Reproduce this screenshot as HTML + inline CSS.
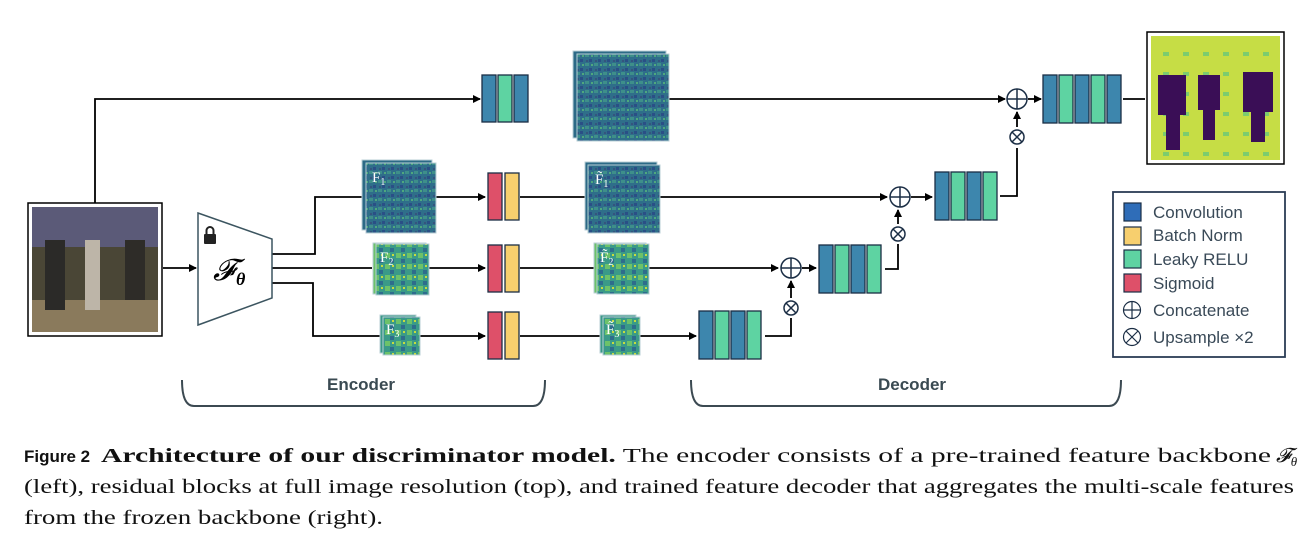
<!DOCTYPE html>
<html><head><meta charset="utf-8"><style>
body{margin:0;background:#fff;width:1314px;height:540px;overflow:hidden}
</style></head><body>
<svg width="1314" height="540" style="position:absolute;left:0;top:0" font-family="Liberation Sans, sans-serif">
<defs>
<marker id="a" markerWidth="8" markerHeight="8" refX="7" refY="4" orient="auto" markerUnits="userSpaceOnUse"><path d="M0,0L8,4L0,8z" fill="#000"/></marker>
<pattern id="fm" width="9" height="9" patternUnits="userSpaceOnUse"><rect width="9" height="9" fill="#2f6e8a"/><rect x="0" y="0" width="4" height="3" fill="#3e8f8a"/><rect x="4" y="5" width="3" height="3" fill="#2a4f86"/><rect x="6" y="1" width="2" height="2" fill="#4ea87e"/><rect x="1" y="6" width="2" height="2" fill="#35547e"/></pattern>
<pattern id="fm2" width="11" height="11" patternUnits="userSpaceOnUse"><rect width="11" height="11" fill="#3a9a88"/><rect x="0" y="0" width="5" height="5" fill="#6cc26a"/><rect x="5" y="6" width="4" height="4" fill="#2e6d8c"/><rect x="7" y="1" width="2" height="2" fill="#c8dc3c"/></pattern>
<pattern id="seg" width="20" height="20" patternUnits="userSpaceOnUse"><rect width="20" height="20" fill="#c6dd45"/><rect x="3" y="12" width="6" height="4" fill="#7ccc6e"/></pattern>
</defs>
<g stroke="#000" stroke-width="1.8" fill="none">
<path d="M95,203V99H480" marker-end="url(#a)"/>
<path d="M668,99H1005" marker-end="url(#a)"/>
<path d="M1028,99H1041" marker-end="url(#a)"/>
<path d="M1123,99H1145"/>
<path d="M1017,127V112" marker-end="url(#a)"/>
<path d="M1000,196H1017V148"/>
<path d="M163,268H196" marker-end="url(#a)"/>
<path d="M272,254H315V197H362"/>
<path d="M435,197H485" marker-end="url(#a)"/>
<path d="M520,197H585"/>
<path d="M660,197H887" marker-end="url(#a)"/>
<path d="M911,197H932" marker-end="url(#a)"/>
<path d="M898,224V210" marker-end="url(#a)"/>
<path d="M885,269H898V244"/>
<path d="M272,268H372"/>
<path d="M428,268H485" marker-end="url(#a)"/>
<path d="M520,268H595"/>
<path d="M648,268H778" marker-end="url(#a)"/>
<path d="M802,268H816" marker-end="url(#a)"/>
<path d="M791,298V281" marker-end="url(#a)"/>
<path d="M765,336H791V318"/>
<path d="M272,283H313V336H380"/>
<path d="M420,336H485" marker-end="url(#a)"/>
<path d="M520,336H600"/>
<path d="M640,336H696" marker-end="url(#a)"/>
</g>
<rect x="28" y="203" width="134" height="133" fill="#fff" stroke="#000" stroke-width="1.5"/>
<rect x="32" y="207" width="126" height="125" fill="#4a4636"/>
<rect x="32" y="207" width="126" height="40" fill="#5b5a78"/>
<rect x="32" y="300" width="126" height="32" fill="#8a7a5c"/>
<rect x="45" y="240" width="20" height="70" fill="#2b2a28"/><rect x="85" y="240" width="15" height="70" fill="#bdb5a8"/><rect x="125" y="240" width="20" height="60" fill="#2e2c28"/>
<path d="M198,213L272,239V298L198,325Z" fill="#fff" stroke="#3c5560" stroke-width="1.5"/>
<rect x="204" y="234" width="12" height="10" rx="1" fill="#222"/><path d="M206.5,234v-3.5a3.5,3.5 0 0 1 7,0v3.5" stroke="#222" stroke-width="2" fill="none"/>
<text x="213" y="280" font-family="Liberation Serif,serif" font-style="italic" font-size="30">𝓕</text><text x="236" y="285" font-family="Liberation Serif,serif" font-weight="bold" font-style="italic" font-size="18">θ</text>
<g stroke="#1b2e45" stroke-width="1.3">
<rect x="482" y="75" width="14" height="47" fill="#3d86ad"/><rect x="498" y="75" width="14" height="47" fill="#5ed3a2"/><rect x="514" y="75" width="14" height="47" fill="#3d86ad"/>
<rect x="1043" y="75" width="14" height="48" fill="#3d86ad"/><rect x="1059" y="75" width="14" height="48" fill="#5ed3a2"/><rect x="1075" y="75" width="14" height="48" fill="#3d86ad"/><rect x="1091" y="75" width="14" height="48" fill="#5ed3a2"/><rect x="1107" y="75" width="14" height="48" fill="#3d86ad"/>
<rect x="935" y="172" width="14" height="48" fill="#3d86ad"/><rect x="951" y="172" width="14" height="48" fill="#5ed3a2"/><rect x="967" y="172" width="14" height="48" fill="#3d86ad"/><rect x="983" y="172" width="14" height="48" fill="#5ed3a2"/>
<rect x="819" y="245" width="14" height="48" fill="#3d86ad"/><rect x="835" y="245" width="14" height="48" fill="#5ed3a2"/><rect x="851" y="245" width="14" height="48" fill="#3d86ad"/><rect x="867" y="245" width="14" height="48" fill="#5ed3a2"/>
<rect x="699" y="311" width="14" height="48" fill="#3d86ad"/><rect x="715" y="311" width="14" height="48" fill="#5ed3a2"/><rect x="731" y="311" width="14" height="48" fill="#3d86ad"/><rect x="747" y="311" width="14" height="48" fill="#5ed3a2"/>
<rect x="488" y="173" width="14" height="47" fill="#de5069"/><rect x="505" y="173" width="14" height="47" fill="#f7cf6e"/>
<rect x="488" y="245" width="14" height="47" fill="#de5069"/><rect x="505" y="245" width="14" height="47" fill="#f7cf6e"/>
<rect x="488" y="312" width="14" height="47" fill="#de5069"/><rect x="505" y="312" width="14" height="47" fill="#f7cf6e"/>
</g>
<g stroke="#b9cfd6" stroke-width="1">
<rect x="573" y="51" width="93" height="87" fill="#2c6a86"/><rect x="577" y="54" width="92" height="87" fill="url(#fm)"/>
<rect x="362" y="160" width="70" height="70" fill="#2c6a86"/><rect x="366" y="163" width="70" height="70" fill="url(#fm)"/>
<rect x="585" y="162" width="72" height="68" fill="#2c6a86"/><rect x="588" y="165" width="72" height="68" fill="url(#fm)"/>
<rect x="373" y="243" width="53" height="51" fill="#6cc26a"/><rect x="376" y="244" width="53" height="51" fill="url(#fm2)"/>
<rect x="594" y="243" width="52" height="50" fill="#6cc26a"/><rect x="597" y="244" width="52" height="50" fill="url(#fm2)"/>
<rect x="380" y="315" width="36" height="38" fill="#3a9a88"/><rect x="383" y="317" width="37" height="38" fill="url(#fm2)"/>
<rect x="600" y="315" width="36" height="38" fill="#3a9a88"/><rect x="603" y="317" width="37" height="38" fill="url(#fm2)"/>
</g>
<g fill="#fff" font-family="Liberation Serif,serif" font-size="15"><text x="372" y="182">F<tspan font-size="10" dy="3">1</tspan></text><text x="595" y="184">F̃<tspan font-size="10" dy="3">1</tspan></text><text x="380" y="262">F<tspan font-size="10" dy="3">2</tspan></text><text x="600" y="262">F̃<tspan font-size="10" dy="3">2</tspan></text><text x="386" y="334">F<tspan font-size="10" dy="3">3</tspan></text><text x="606" y="334">F̃<tspan font-size="10" dy="3">3</tspan></text></g>
<rect x="1147" y="32" width="137" height="132" fill="#fff" stroke="#000" stroke-width="1.5"/>
<rect x="1151" y="36" width="129" height="124" fill="url(#seg)"/>
<path d="M1158,75h28v40h-6v35h-14v-35h-8z M1198,75h22v35h-5v30h-12v-30h-5z M1243,72h30v40h-8v30h-14v-30h-8z" fill="#3a0e56"/>
<g stroke="#1b2e45" stroke-width="1.5" fill="#fff">
<circle cx="1017" cy="99" r="10"/><path d="M1007,99h20M1017,89v20"/>
<circle cx="900" cy="197" r="10"/><path d="M890,197h20M900,187v20"/>
<circle cx="791" cy="268" r="10"/><path d="M781,268h20M791,258v20"/>
<circle cx="1017" cy="137" r="7"/><path d="M1012,132l10,10M1022,132l-10,10"/>
<circle cx="898" cy="234" r="7"/><path d="M893,229l10,10M903,229l-10,10"/>
<circle cx="791" cy="308" r="7"/><path d="M786,303l10,10M796,303l-10,10"/>
</g>
<rect x="1113" y="192" width="172" height="165" fill="#fff" stroke="#2b3c55" stroke-width="1.8"/>
<g stroke="#1b2e45" stroke-width="1.2"><rect x="1124" y="203" width="17" height="18" fill="#2f6db8"/><rect x="1124" y="227" width="17" height="18" fill="#f7cf6e"/><rect x="1124" y="250" width="17" height="18" fill="#5ed3a2"/><rect x="1124" y="274" width="17" height="18" fill="#de5069"/>
<circle cx="1132" cy="310" r="8.5" fill="#fff"/><path d="M1123.5,310h17M1132,301.5v17" fill="none"/><circle cx="1132" cy="337" r="8.5" fill="#fff"/><path d="M1126,331l12,12M1138,331l-12,12" fill="none"/></g>
<g font-size="17" fill="#3a4a58"><text x="1153" y="218">Convolution</text><text x="1153" y="241">Batch Norm</text><text x="1153" y="265">Leaky RELU</text><text x="1153" y="289">Sigmoid</text><text x="1153" y="316">Concatenate</text><text x="1153" y="343">Upsample ×2</text></g>
<g stroke="#3c4a52" stroke-width="2" fill="none"><path d="M182,380q0,26 12,26H533q12,0 12,-26"/><path d="M691,380q0,26 12,26H1109q12,0 12,-26"/></g>
<g font-size="17" font-weight="bold" fill="#3a4a52"><text x="327" y="390">Encoder</text><text x="878" y="390">Decoder</text></g>
<g font-family="Liberation Serif,serif" font-size="20" fill="#111">
<text x="24" y="462" font-family="Liberation Sans,sans-serif" font-weight="bold" font-size="17">Figure 2</text>
<text x="101" y="462" textLength="1170" lengthAdjust="spacingAndGlyphs"><tspan font-weight="bold">Architecture of our discriminator model.</tspan> The encoder consists of a pre-trained feature backbone</text>
<text x="1276" y="462" font-style="italic">𝓕<tspan font-size="13" dy="4">θ</tspan></text>
<text x="24" y="493" textLength="1270" lengthAdjust="spacingAndGlyphs">(left), residual blocks at full image resolution (top), and trained feature decoder that aggregates the multi-scale features</text>
<text x="24" y="524" textLength="359" lengthAdjust="spacingAndGlyphs">from the frozen backbone (right).</text>
</g>
</svg>
</body></html>
